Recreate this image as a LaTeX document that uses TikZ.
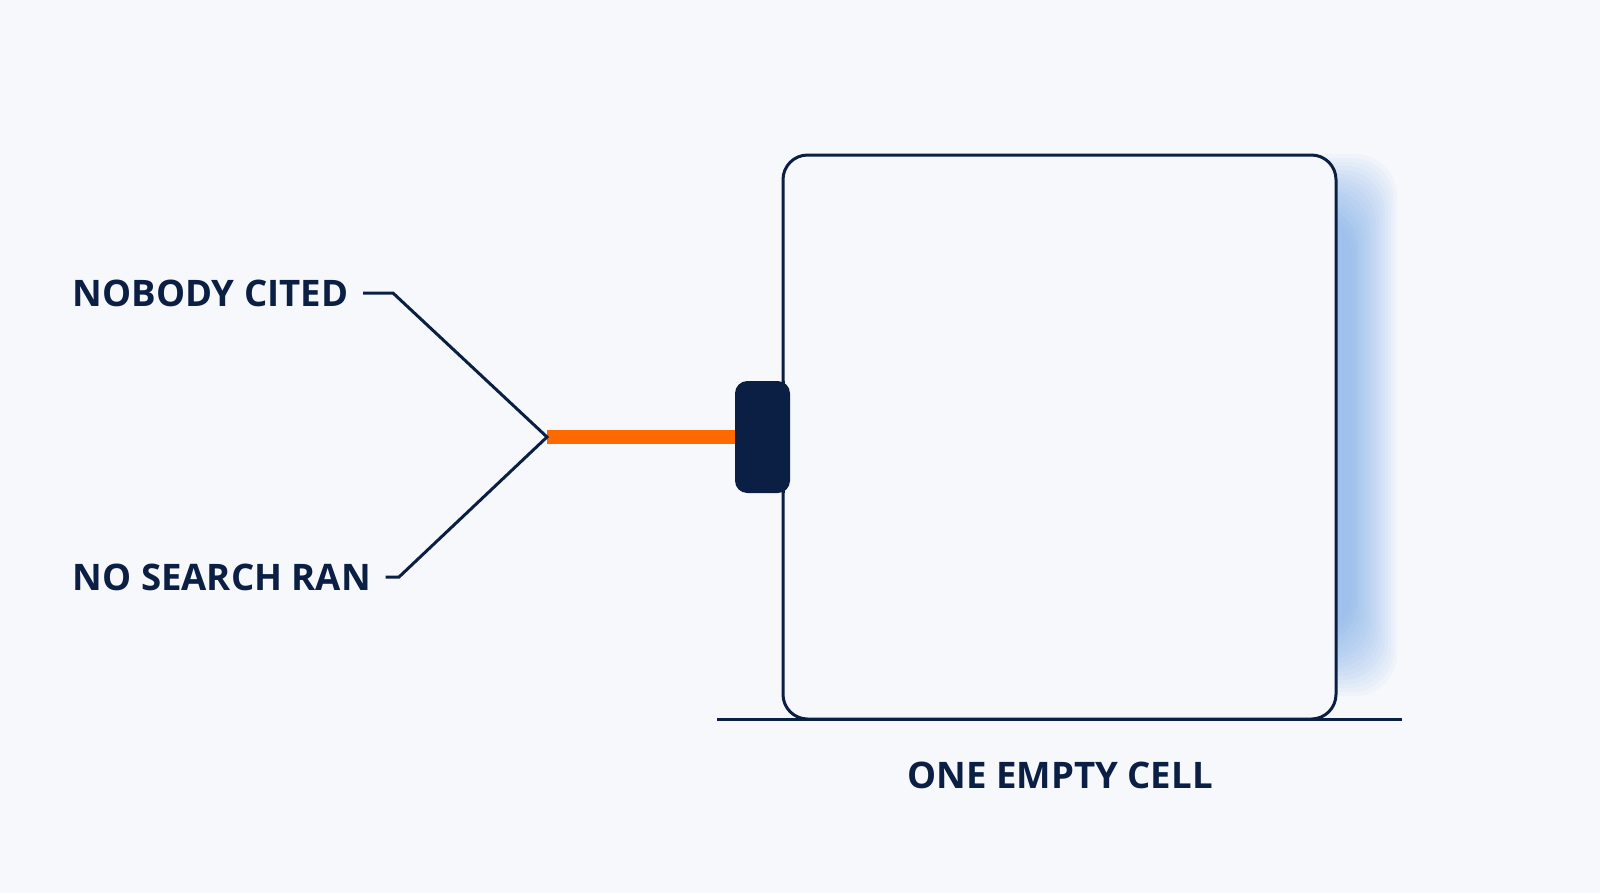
\documentclass[tikz,border=0pt]{standalone}
\usepackage{fontspec}
\setmainfont{Open Sans}
\usetikzlibrary{positioning}
\definecolor{navy}{HTML}{0B1F44}
\definecolor{bg}{HTML}{F7F8FB}
\definecolor{glow}{HTML}{4A90E2}
\definecolor{wire}{HTML}{FF6A00}
\tikzset{
	main/.style={navy, line width=0.85pt},
	label/.style={font=\fontsize{10.4}{12}\selectfont\bfseries, text=navy, inner sep=0pt},
}
\begin{document}
\begin{tikzpicture}[x=0.01cm,y=-0.01cm]
	\fill[bg] (0,0) rectangle (1600,893);
	\useasboundingbox (0,0) rectangle (1600,893);
	
	% glow
	\foreach \k in {1,...,16}
		\fill[glow, opacity=0.04, rounded corners=12pt] (1000,150+4*\k) rectangle (1400-3*\k,700-4*\k);
	
	\filldraw[main, fill=bg, rounded corners=7pt] (783,155) rectangle (1336,719);
	\draw[main] (717,719) -- (1402,719);
	
	\fill[navy, rounded corners=3.5pt] (735,381) rectangle (790,493);
	\draw[main] (783,381) -- (783,493);
	
	\node[label, anchor=west] (cited) at (72,293) {NOBODY CITED};
	\node[label, anchor=west] (search) at (72,577) {NO SEARCH RAN};
	\node[label] (cell) at (1060,775) {ONE EMPTY CELL};
	
	\coordinate (tip) at (547,437);
	\coordinate (tab) at (735,437);
	\draw[wire, line width=4pt] (tip) -- (tab);
	\draw[main] ([xshift=4pt]cited.east) -- (393,293) -- (tip) -- (399,577) -- ([xshift=4pt]search.east);
\end{tikzpicture}
\end{document}
